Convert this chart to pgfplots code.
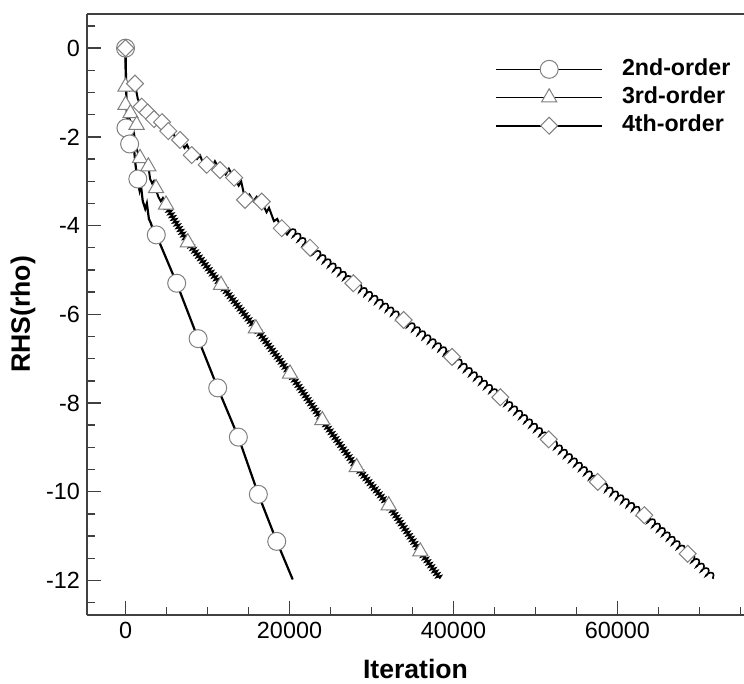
\documentclass[border=0pt]{standalone}
\usepackage{pgfplots}
\pgfplotsset{compat=1.18}
\usepackage{fontspec}
\setmainfont{Liberation Sans}
\usetikzlibrary{decorations.pathmorphing}

\begin{document}
\begin{tikzpicture}
\begin{axis}[
    scale only axis,
    width=328.5pt, height=300.5pt,
    xmin=-4700, xmax=75430,
    ymin=-12.78, ymax=0.77,
    axis x line*=box, axis y line*=left,
    axis line style={black!75, line width=1pt},
    tick align=inside,
    xtick pos=left, ytick pos=left,
    major tick length=7pt, minor tick length=4pt,
    every tick/.style={black!75, line width=0.7pt},
    xtick={0,20000,40000,60000},
    minor xtick={5000,10000,15000,25000,30000,35000,45000,50000,55000,65000,70000,75000},
    ytick={-12,-10,-8,-6,-4,-2,0},
    minor ytick={-12.5,-11.5,-11,-10.5,-9.5,-9,-8.5,-7.5,-7,-6.5,-5.5,-5,-4.5,-3.5,-3,-2.5,-1.5,-1,-0.5,0.5},
    scaled x ticks=false,
    /pgf/number format/1000 sep={},
    /pgf/number format/assume math mode=true,
    tick label style={font=\fontsize{11.7}{14}\selectfont},
    xlabel={Iteration}, ylabel={RHS(rho)},
    every axis x label/.style={at={(axis description cs:0.5,-0.09)}, anchor=center,
        font=\fontsize{13.3}{16}\selectfont\bfseries},
    every axis y label/.style={at={(axis description cs:-0.0974,0.5)}, rotate=90, anchor=center,
        font=\fontsize{13.3}{16}\selectfont\bfseries},
    legend style={draw=none, fill=none, inner sep=0pt,
        at={(axis description cs:0.621,0.861)}, anchor=west,
        font=\fontsize{11.6}{14}\selectfont\bfseries,
        nodes={inner sep=1.5pt, text height=8.5pt, text depth=2.6pt},
        /tikz/every odd column/.style={column sep=8pt}},
    legend cell align=left,
    legend image code/.code={\draw[mark repeat=2, mark phase=2] plot coordinates {(0pt,0pt) (26.5pt,0pt) (53pt,0pt)};},
    clip=false,
]

% legend entries
\addlegendimage{black, line width=0.8pt, mark=*, mark size=4.5pt, mark options={fill=white, draw=gray, line width=0.5pt}}
\addlegendentry{2nd-order}
\addlegendimage{black, line width=0.8pt, mark=triangle*, mark size=4.4pt, mark options={fill=white, draw=gray, line width=0.5pt}}
\addlegendentry{3rd-order}
\addlegendimage{black, line width=0.8pt, mark=square*, mark size=3pt, mark options={fill=white, draw=gray, line width=0.5pt, rotate=45}}
\addlegendentry{4th-order}

% 2nd-order line
\addplot[black, line width=1.1pt, no marks, forget plot] coordinates {
    (0,0) (60,-0.75) (120,-1.3) (200,-1.75) (500,-2.1) (800,-2.3) (1000,-2.2)
    (1200,-2.6) (1440,-2.95) (1700,-3.2) (1850,-3.05) (2100,-3.45) (2400,-3.62)
    (2600,-3.5) (2850,-3.85) (3100,-3.95) (3350,-4.1) (3750,-4.21) (6240,-5.30)
    (8850,-6.55) (11240,-7.66) (13760,-8.77) (16200,-10.06) (18440,-11.12) (20390,-11.98)
};

% 3rd-order line, early part
\addplot[black, line width=1pt, no marks, forget plot] coordinates {
    (0,0) (50,-0.9) (120,-1.25) (300,-1.5) (600,-1.65) (950,-1.78) (1150,-2.1)
    (1400,-2.3) (1770,-2.5) (2100,-2.45) (2500,-2.62) (2800,-2.68) (3000,-2.95)
    (3250,-3.05) (3450,-3.0) (3720,-3.2) (4000,-3.35) (4300,-3.45) (4550,-3.38) (4940,-3.55)
};
% 3rd-order line, oscillating part
\addplot[black, line width=0.9pt, no marks, forget plot, decorate,
    decoration={zigzag, segment length=1.6pt, amplitude=1.1pt}] coordinates {
    (4940,-3.55) (6200,-3.95) (7600,-4.38) (11650,-5.34) (15900,-6.32) (20060,-7.34)
    (24000,-8.39) (28190,-9.45) (32100,-10.31) (35950,-11.35) (38390,-11.96)
};

% 4th-order line, early part
\addplot[black, line width=1pt, no marks, forget plot] coordinates {
    (0,0) (60,-0.75) (500,-0.95) (1160,-0.82) (1500,-1.15) (1970,-1.32) (2400,-1.42)
    (2800,-1.38) (3100,-1.55) (3480,-1.60) (3900,-1.52) (4100,-1.70) (4500,-1.68)
    (5000,-1.80) (5220,-1.87) (5800,-1.92) (6100,-2.02) (6650,-2.07) (7200,-2.25)
    (7500,-2.18) (8070,-2.41) (8700,-2.50) (9100,-2.42) (9500,-2.62) (9900,-2.63)
    (10500,-2.70) (10900,-2.55) (11520,-2.75) (12200,-2.85) (12600,-2.72) (13200,-2.92)
    (13800,-3.10) (14100,-3.00) (14570,-3.40) (15100,-3.30) (15600,-3.45) (16000,-3.35)
    (16610,-3.46) (17200,-3.70) (17500,-3.60) (18100,-3.90) (18500,-3.85) (19050,-4.06)
    (19700,-4.20) (20100,-4.10)
};
% 4th-order line, oscillating part
\addplot[black, line width=0.8pt, no marks, forget plot, decorate,
    decoration={coil, aspect=0.45, segment length=3.3pt, amplitude=1.7pt}] coordinates {
    (20100,-4.10) (22500,-4.50) (27780,-5.30) (33920,-6.13) (39820,-6.96) (45710,-7.87)
    (51610,-8.82) (57590,-9.78) (63270,-10.53) (68560,-11.40) (71730,-11.96)
};

% markers
\addplot[only marks, mark=*, mark size=4.5pt, mark options={fill=white, draw=gray, line width=0.5pt}, forget plot] coordinates {
    (0,0) (50,-1.80) (500,-2.16) (1500,-2.95) (3750,-4.21) (6240,-5.30) (8850,-6.55)
    (11240,-7.66) (13760,-8.77) (16200,-10.06) (18440,-11.12)
};
\addplot[only marks, mark=triangle*, mark size=4.4pt, mark options={fill=white, draw=gray, line width=0.5pt}, forget plot] coordinates {
    (0,-0.87) (0,-1.28) (600,-1.47) (1350,-1.73) (1770,-2.48) (2780,-2.67) (3720,-3.16)
    (4940,-3.53) (7600,-4.38) (11650,-5.34) (15900,-6.32) (20060,-7.34) (24000,-8.39)
    (28190,-9.45) (32100,-10.31) (35950,-11.35)
};
\addplot[only marks, mark=square*, mark size=3pt, mark options={fill=white, draw=gray, line width=0.5pt, rotate=45}, forget plot] coordinates {
    (0,0) (1160,-0.80) (1970,-1.32) (2700,-1.45) (3480,-1.60) (4450,-1.67) (5220,-1.87)
    (6650,-2.07) (8070,-2.41) (9900,-2.63) (11520,-2.75) (13250,-2.92) (14570,-3.42)
    (16610,-3.46) (19050,-4.06) (22500,-4.50) (27780,-5.30) (33920,-6.13) (39820,-6.96)
    (45710,-7.87) (51610,-8.82) (57590,-9.78) (63270,-10.53) (68560,-11.40)
};

\end{axis}
% page size as in the reference: margin above the frame, room for labels below and left
\pgfresetboundingbox
\path ([xshift=-43.5pt,yshift=-34.5pt]current axis.south west) rectangle ([yshift=7pt]current axis.north east);
\end{tikzpicture}
\end{document}
